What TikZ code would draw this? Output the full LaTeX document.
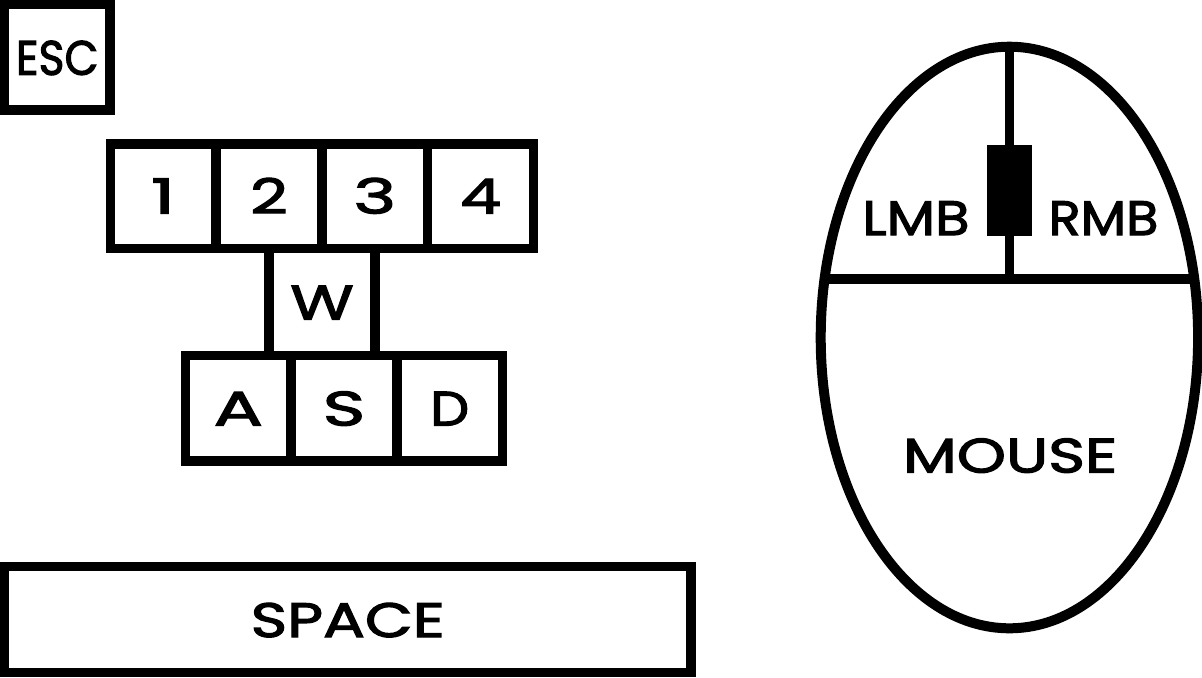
\documentclass[tikz,border=0pt]{standalone}
\usepackage{fontspec}
\setmainfont{Poppins}
\newfontfamily\keyfont[FakeStretch=1.2,FakeBold=2.5]{Poppins}
\newcommand{\wide}[2]{\scalebox{#1}[1]{#2}}
\tikzset{>=latex}
\tikzset{keytext/.style={inner sep=0pt, font=\keyfont\fontsize{27.5}{28}\selectfont, text height=0.7cm, text depth=0pt}}
\tikzset{keybox/.style={keytext, draw, line width=0.19cm, minimum width=2.116cm, minimum height=2.11cm}}
\begin{document}
\begin{tikzpicture}[x=0.02cm, y=-0.02cm]
\useasboundingbox (0,0) rectangle (1202,677);
% keyboard
\node[keybox, minimum width=2.11cm] (esc) at (57.3,57.3) {\wide{.76}{ESC}};
\foreach \x / \y / \z in {163.2 / 1 / 1.3, 269 / 2 / 1.13, 374.8 / 3 / 1.25, 480.6 / 4 / 1.12}{
\node[keybox, minimum height=2.09cm] (key\y) at (\x, 196) {\wide{\z}{\y}};
}
\node[keybox, minimum height=2.14cm] (keyW) at (322, 302) {\wide{1.12}{W}};
\foreach \x / \y / \z in {238.3 / A / 1.26, 344 / S / 1.25, 449.7 / D / .95}{
\node[keybox] (key\y) at (\x, 408) {\wide{\z}{\y}};
}
\node[keybox, minimum width=13.73cm, minimum height=2.12cm] (space) at (347.7, 619.5) {\wide{1.07}{SPACE}};
% mouse
\draw[line width=0.2cm] (1009.4,337.5) ellipse (188.7 and 290.8);
\draw[line width=0.19cm] (824,279) -- (1195,279);
\draw[line width=0.19cm] (1009.5,46) -- (1009.5,279);
\fill (986.7,145) rectangle (1032,235.7);
\node[keytext] (lmb) at (916,217.5) {\wide{.97}{LMB}};
\node[keytext] (rmb) at (1103.5,217.5) {\wide{.91}{RMB}};
\node[keytext] (mouse) at (1010,455) {\wide{1.08}{MOUSE}};
\end{tikzpicture}
\end{document}
